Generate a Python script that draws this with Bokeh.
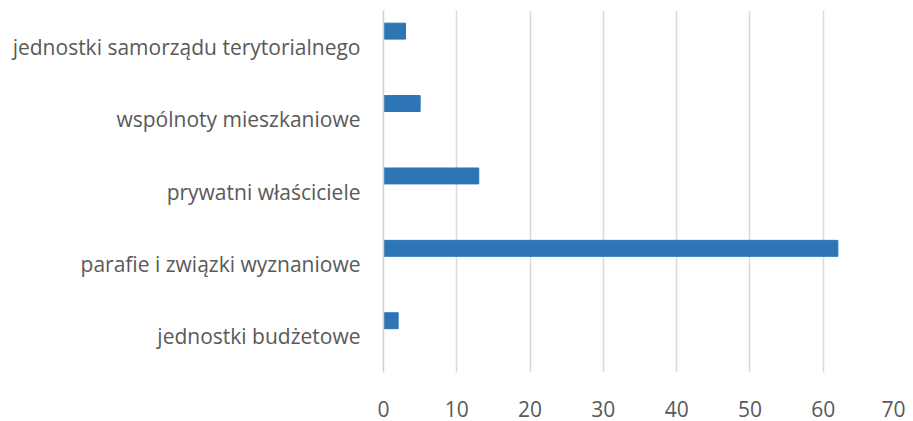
from bokeh.plotting import figure
from bokeh.models import ColumnDataSource, FixedTicker
from bokeh.transform import dodge
from bokeh.embed import file_html
from bokeh.resources import INLINE

categories = ["jednostki budżetowe", "parafie i związki wyznaniowe", "prywatni właściciele",
              "wspólnoty mieszkaniowe", "jednostki samorządu terytorialnego"]
values = [2, 62, 13, 5, 3]
x_ticks = [0, 10, 20, 30, 40, 50, 60, 70]

src = ColumnDataSource(dict(cat=categories, val=values))

p = figure(width=905, height=421, y_range=categories, x_range=(0, 70),
           output_backend="svg", toolbar_location=None,
           min_border_left=383, min_border_right=9, min_border_top=10, min_border_bottom=49)
p.outline_line_color = None
p.background_fill_color = "white"
p.border_fill_color = "white"

p.hbar(y=dodge("cat", 0.215, range=p.y_range), right="val", left=0, height=0.22,
       source=src, fill_color="#2E75B6", line_color="#2E75B6")

font = "Open Sans"
grey = "#595959"
p.xaxis.ticker = FixedTicker(ticks=x_ticks)
p.xaxis.axis_line_color = None
p.xaxis.major_tick_line_color = None
p.xaxis.minor_tick_line_color = None
p.xaxis.major_label_text_font = font
p.xaxis.major_label_text_font_size = "21px"
p.xaxis.major_label_text_color = grey
p.xaxis.major_label_standoff = 22

p.yaxis.axis_line_color = "#D0D0D0"
p.yaxis.axis_line_width = 1.5
p.yaxis.major_tick_line_color = None
p.yaxis.minor_tick_line_color = None
p.yaxis.major_label_text_font = font
p.yaxis.major_label_text_font_size = "21px"
p.yaxis.major_label_text_color = grey
p.yaxis.major_label_standoff = 17

p.xgrid.grid_line_color = "#D9D9D9"
p.xgrid.grid_line_width = 1.5
p.ygrid.grid_line_color = None

open("out.html", "w").write(file_html(p, INLINE))
